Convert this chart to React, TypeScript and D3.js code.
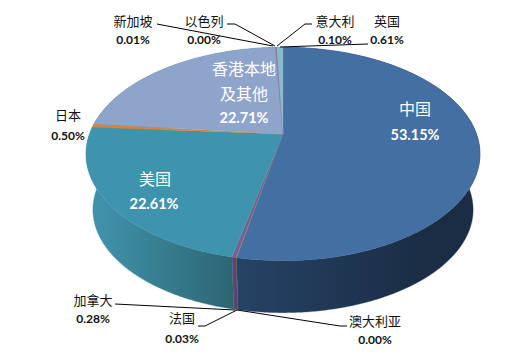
import React from "react";
import * as d3 from "d3";

const names = ["中国", "澳大利亚", "法国", "加拿大", "美国", "日本", "香港本地及其他", "新加坡", "以色列", "意大利", "英国"];
const shares = [53.15, 0.0, 0.03, 0.28, 22.61, 0.5, 22.71, 0.01, 0.0, 0.1, 0.61];
const percentLabels = ["53.15%", "0.00%", "0.03%", "0.28%", "22.61%", "0.50%", "22.71%", "0.01%", "0.00%", "0.10%", "0.61%"];
const topColors = ["#446fa3", "#a04050", "#7f9a45", "#7c5c92", "#3e94ae", "#db8233", "#8fa4cb", "#c65f5f", "#a9c06b", "#8d74ab", "#86bccb"];
const sideLeft = ["#264365", "#7a3038", "#5f7434", "#6a4a80", "#3f90a8", "#3f90a8", "#3f90a8", "#964848", "#7f9050", "#6a5780", "#659099"];
const sideRight = ["#1a2d45", "#7a3038", "#5f7434", "#5a4070", "#2d6673", "#3f90a8", "#3f90a8", "#964848", "#7f9050", "#6a5780", "#659099"];

const W = 506, H = 358;
const cx = 283, apexY = 134, R = 193.5, B = 103, k = 0.187;
const depth = 56.4, bottomScale = 0.965;
const CJK = "'Noto Sans CJK SC', sans-serif";
const NUM = "Lato, 'Open Sans', sans-serif";

function project(t: number, s = 1, dy = 0): [number, number] {
  const X = Math.sin(t), Y = -Math.cos(t), w = 1 - k * Y;
  return [cx + (s * R * X) / w, apexY + dy + (s * B * Y) / w];
}
function arcPoints(a0: number, a1: number, s = 1, dy = 0) {
  const n = Math.max(2, Math.ceil((a1 - a0) / 0.01));
  return d3.range(n + 1).map((i) => project(a0 + ((a1 - a0) * i) / n, s, dy));
}

const outerLabels = [
  { i: 7, name: "新加坡", x: 133, y: 20, py: 39 },
  { i: 8, name: "以色列", x: 204, y: 20, py: 39 },
  { i: 9, name: "意大利", x: 335, y: 20, py: 39 },
  { i: 10, name: "英国", x: 387, y: 20, py: 39 },
  { i: 5, name: "日本", x: 68, y: 114, py: 135 },
  { i: 3, name: "加拿大", x: 93, y: 299, py: 318 },
  { i: 2, name: "法国", x: 182, y: 317, py: 338 },
  { i: 1, name: "澳大利亚", x: 375, y: 320, py: 339 },
];
const leaders: [number, number][][] = [
  [[157, 24], [273, 46]],
  [[227, 24], [235, 24], [275, 46]],
  [[312, 24], [305, 24], [277, 46]],
  [[368, 44], [280, 47]],
  [[115, 304], [235, 310]],
  [[198, 326], [205, 326], [237, 310]],
  [[347, 326], [340, 326], [237, 310]],
];

export default function App() {
  const arcs = d3.pie<number>().sort(null).value((d) => d)(shares);
  const line = d3.line();
  return (
    <svg width={W} height={H} viewBox={`0 0 ${W} ${H}`} style={{ position: "absolute", left: 0, top: 0, background: "#fff" }}>
      <defs>
        {arcs.map((a, i) => {
          const xs = arcPoints(a.startAngle, a.endAngle).map((p) => p[0]);
          const front = a.index === 0 ? [237, 420] : a.index === 4 ? [105, 232] : [d3.min(xs)!, d3.max(xs)! + 0.01];
          return (
            <linearGradient key={i} id={`side${i}`} gradientUnits="userSpaceOnUse" x1={front[0]} x2={front[1]} y1={0} y2={0}>
              <stop offset="0" stopColor={sideLeft[i]} />
              <stop offset="1" stopColor={sideRight[i]} />
            </linearGradient>
          );
        })}
      </defs>
      {arcs.map((a, i) => {
        if (a.endAngle - a.startAngle < 1e-6) return null;
        const top = arcPoints(a.startAngle, a.endAngle);
        const bot = arcPoints(a.startAngle, a.endAngle, bottomScale, depth).reverse();
        return <path key={i} d={line([...top, ...bot])! + "Z"} fill={`url(#side${i})`} stroke={`url(#side${i})`} strokeWidth={0.4} />;
      })}
      {arcs.map((a, i) => {
        if (a.endAngle - a.startAngle < 1e-6) return null;
        const pts = [[cx, apexY] as [number, number], ...arcPoints(a.startAngle, a.endAngle)];
        return <path key={i} d={line(pts)! + "Z"} fill={topColors[i]} stroke={topColors[i]} strokeWidth={0.3} />;
      })}
      {leaders.map((l, i) => (
        <path key={i} d={line(l)!} fill="none" stroke="#000" strokeWidth={1} />
      ))}
      {outerLabels.map((l) => (
        <g key={l.i} textAnchor="middle" fill="#111">
          <text x={l.x} y={l.y} dominantBaseline="central" fontFamily={CJK} fontSize={13}>{l.name}</text>
          <text x={l.x} y={l.py} dominantBaseline="central" fontFamily={NUM} fontSize={12} fontWeight={700}>{percentLabels[l.i]}</text>
        </g>
      ))}
      <g textAnchor="middle" fill="#fff">
        <text x={415} y={108} fontFamily={CJK} fontSize={16} dominantBaseline="central">{names[0]}</text>
        <text x={415} y={134} fontFamily={NUM} fontSize={14.5} fontWeight={700} dominantBaseline="central">{percentLabels[0]}</text>
        <text x={155} y={178} fontFamily={CJK} fontSize={16} dominantBaseline="central">{names[4]}</text>
        <text x={154} y={203} fontFamily={NUM} fontSize={14.5} fontWeight={700} dominantBaseline="central">{percentLabels[4]}</text>
        <text x={244} y={68} fontFamily={CJK} fontSize={16} dominantBaseline="central">{names[6].slice(0, 4)}</text>
        <text x={244} y={93} fontFamily={CJK} fontSize={16} dominantBaseline="central">{names[6].slice(4)}</text>
        <text x={244} y={117} fontFamily={NUM} fontSize={14.5} fontWeight={700} dominantBaseline="central">{percentLabels[6]}</text>
      </g>
    </svg>
  );
}
